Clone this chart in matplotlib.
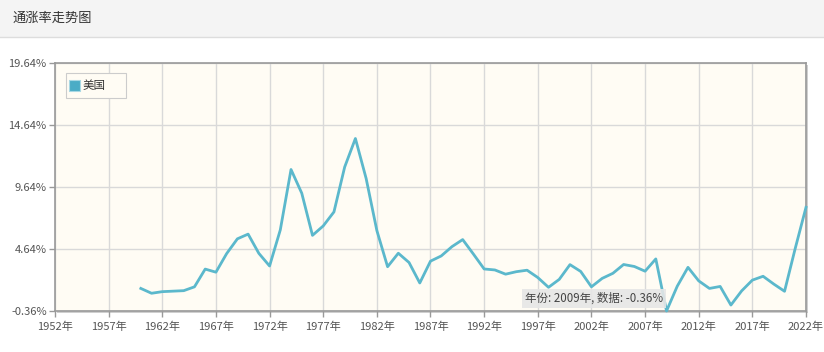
import matplotlib.pyplot as plt
from matplotlib.patches import Rectangle

plt.rcParams['font.family'] = ['Noto Sans CJK SC', 'DejaVu Sans']

# --- DATA ---
years = list(range(1960, 2023))
inflation = [1.46, 1.07, 1.20, 1.24, 1.28, 1.59, 3.02, 2.77, 4.27, 5.46,
             5.84, 4.29, 3.27, 6.18, 11.05, 9.14, 5.74, 6.50, 7.63, 11.25,
             13.55, 10.33, 6.13, 3.21, 4.30, 3.55, 1.90, 3.66, 4.08, 4.83,
             5.40, 4.23, 3.03, 2.95, 2.61, 2.81, 2.93, 2.34, 1.55, 2.19,
             3.38, 2.83, 1.59, 2.27, 2.68, 3.39, 3.23, 2.85, 3.84, -0.36,
             1.64, 3.16, 2.07, 1.46, 1.62, 0.12, 1.26, 2.13, 2.44, 1.81,
             1.23, 4.70, 8.00]
x_ticks = list(range(1952, 2023, 5))
y_ticks = [-0.36, 4.64, 9.64, 14.64, 19.64]
series_name = '美国'
title = '通涨率走势图'
tooltip = '年份: 2009年, 数据: -0.36%'

W, H = 824, 352
fig = plt.figure(figsize=(W / 100, H / 100), dpi=100)
fig.patch.set_facecolor('white')

# --- HEADER BAR ---
fig.patches.append(Rectangle((0, 1 - 37 / H), 1, 37 / H, transform=fig.transFigure,
                             facecolor='#f4f4f4', edgecolor='none', zorder=-2))
fig.lines.append(plt.Line2D([0, 1], [1 - 37 / H, 1 - 37 / H], transform=fig.transFigure,
                            color='#dddddd', lw=1, zorder=-1))
fig.text(12 / W, 1 - 18 / H, title, fontsize=9.5, color='#333333', va='center', ha='left')

# --- PLOT AREA ---
left, right, top, bottom = 55, 806, 63, 311
pw, ph = right - left, bottom - top
ax = fig.add_axes([left / W, 1 - bottom / H, pw / W, ph / H])

# drop shadow for the frame
fig.patches.append(Rectangle(((left + 2) / W, 1 - (bottom + 2) / H), pw / W, ph / H,
                             transform=fig.transFigure,
                             facecolor='#cfcfcf', edgecolor='none', zorder=-1))

ax.set_facecolor('#fffcf4')
ax.plot(years, inflation, color='#5bb8cc', lw=2, zorder=3, clip_on=False)

ax.set_xlim(1952, 2022)
ax.set_ylim(-0.36, 19.64)
ax.set_xticks(x_ticks)
ax.set_xticklabels([f'{y}年' for y in x_ticks])
ax.set_yticks(y_ticks)
ax.set_yticklabels([f'{v:.2f}%' for v in y_ticks])
ax.grid(True, color='#d9d9d9', lw=1)
ax.set_axisbelow(True)
ax.tick_params(axis='both', labelsize=8, colors='#999999', labelcolor='#555555',
               length=4, width=1)
ax.tick_params(axis='y', pad=2)
for s in ax.spines.values():
    s.set_color('#999999')
    s.set_linewidth(1.2)

# legend box (drawn by hand, pixel offsets inside the plot area)
def px(x, y):
    return (x - left) / pw, (bottom - y) / ph

ax.add_patch(Rectangle(px(66, 98), 60 / pw, 25 / ph, transform=ax.transAxes,
                       facecolor='#fffcf4', edgecolor='#cccccc', lw=0.8, zorder=4))
ax.add_patch(Rectangle(px(69, 91), 11 / pw, 11 / ph, transform=ax.transAxes,
                       facecolor='#4bacc6', edgecolor='#a8d8e4', lw=0.8, zorder=5))
ax.text(*px(83, 85.5), series_name, transform=ax.transAxes, fontsize=8.3,
        color='#333333', va='center', ha='left', zorder=5)

# tooltip
ax.annotate(tooltip, xy=(2009, -0.36), xytext=(2002.2, 0.65), ha='center', va='center',
            fontsize=8.3, color='#444444',
            bbox=dict(boxstyle='square,pad=0.25', facecolor='#e6e6e6', edgecolor='none', alpha=0.9),
            zorder=5)

fig.savefig('out.png', dpi=100)
